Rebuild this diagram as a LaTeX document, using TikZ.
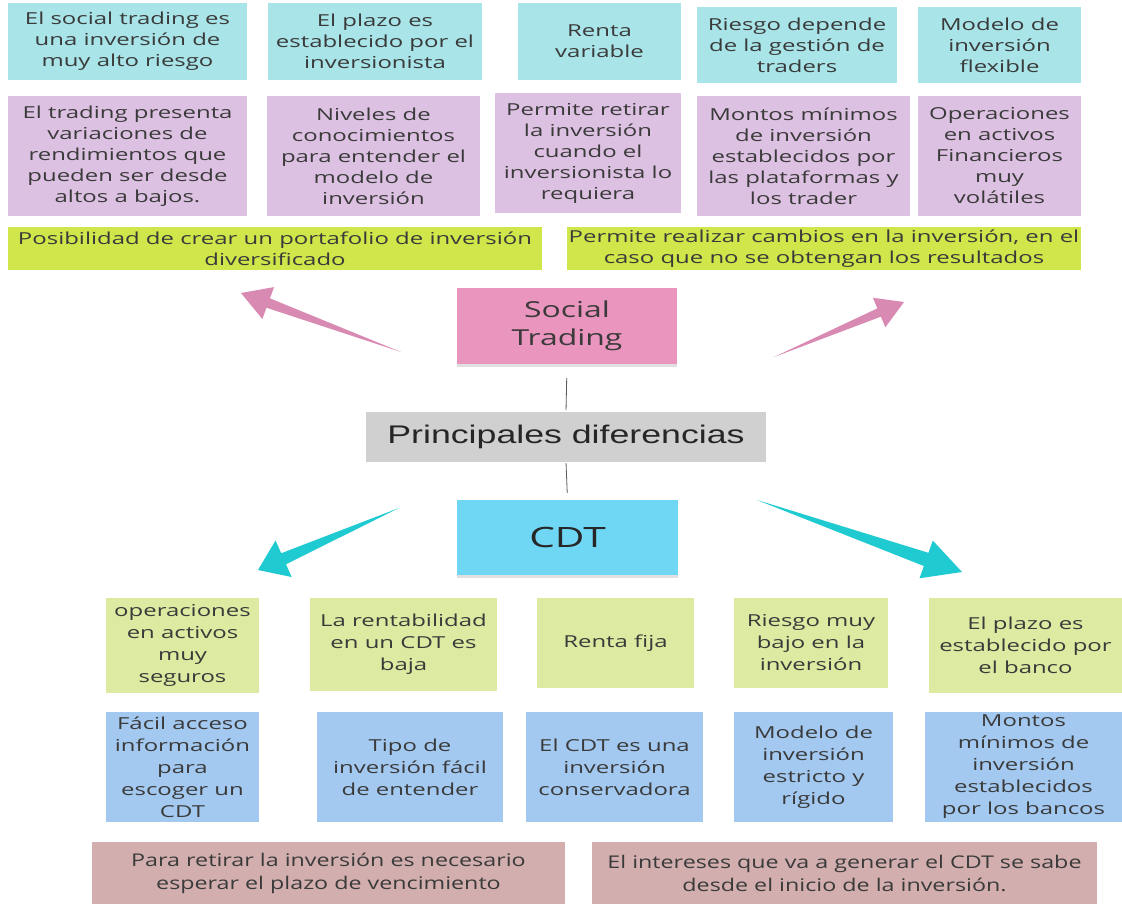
\documentclass[tikz,border=0pt]{standalone}
\usepackage{fontspec}
\setmainfont{Open Sans}[FakeStretch=1.45]
\newfontfamily\arialfont{Liberation Sans}[FakeStretch=1.4]
\newfontfamily\condfont{Open Sans}[FakeStretch=1.33]
\usetikzlibrary{calc,shadows}

\definecolor{cianclaro}{HTML}{A8E4E8}
\definecolor{lila}{HTML}{DDC1E2}
\definecolor{limon}{HTML}{D0E64A}
\definecolor{rosa}{HTML}{E995BE}
\definecolor{gris}{HTML}{D0D0D0}
\definecolor{celeste}{HTML}{6FD6F3}
\definecolor{verdeclaro}{HTML}{DCEBA1}
\definecolor{azul}{HTML}{A3C9F1}
\definecolor{rosado}{HTML}{D2AEAE}
\definecolor{flecharosa}{HTML}{D98AB3}
\definecolor{flechacian}{HTML}{1FCAD0}
\definecolor{texto}{HTML}{3A3A3A}

% color, cola, punta, largo punta, media punta, medio cuerpo
\newcommand{\flecha}[6]{%
  \fill[#1] (#2) -- ($(#3)!#4!(#2)!#6!90:(#3)$) -- ($(#3)!#4!(#2)!#5!90:(#3)$) -- (#3)
    -- ($(#3)!#4!(#2)!#5!-90:(#3)$) -- ($(#3)!#4!(#2)!#6!-90:(#3)$) -- cycle;}

\begin{document}
\begin{tikzpicture}[x=1pt,y=-1pt,
  nota/.style={rectangle, align=center, inner sep=0pt, text=texto,
    font=\fontsize{16.5}{21}\selectfont},
  notab/.style={nota, font=\fontsize{16.5}{22}\selectfont},
  caja/.style 2 args={minimum width=#1pt, minimum height=#2pt},
  sombra/.style={drop shadow={shadow xshift=0pt, shadow yshift=-3pt, opacity=.12, fill=black}},
  conector/.style={draw=black!65, line width=.8pt}]
  \fill[white] (0,0) rectangle (1122,905);
  \useasboundingbox (0,0) rectangle (1122,905);

  % Social Trading
  \node[nota, fill=cianclaro, caja={239}{77}] (c1) at (127.5,41.5) {El social trading es\\una inversión de\\muy alto riesgo};
  \node[nota, fill=cianclaro, caja={214}{77}] (c2) at (375,41.5) {El plazo es\\establecido por el\\inversionista};
  \node[nota, fill=cianclaro, caja={163}{77}] (c3) at (599.5,41.5) {Renta\\variable};
  \node[nota, fill=cianclaro, caja={200}{76}] (c4) at (797,45) {Riesgo depende\\de la gestión de\\traders};
  \node[nota, fill=cianclaro, caja={163}{76}] (c5) at (999.5,45) {Modelo de\\inversión\\flexible};

  \node[nota, fill=lila, caja={239}{120}] (p1) at (127.5,156) {El trading presenta\\variaciones de\\rendimientos que\\pueden ser desde\\altos a bajos.};
  \node[nota, fill=lila, caja={213}{120}] (p2) at (373.5,156) {Niveles de\\conocimientos\\para entender el\\modelo de\\inversión};
  \node[nota, fill=lila, caja={186}{120}] (p3) at (588,153) {Permite retirar\\la inversión\\cuando el\\inversionista lo\\requiera};
  \node[nota, fill=lila, caja={213}{120}] (p4) at (803.5,156) {Montos mínimos\\de inversión\\establecidos por\\las plataformas y\\los trader};
  \node[nota, fill=lila, caja={163}{120}] (p5) at (999.5,156) {Operaciones\\en activos\\Financieros\\muy\\volátiles};

  \node[nota, fill=limon, caja={534}{43}] (g1) at (275,248.5) {Posibilidad de crear un portafolio de inversión\\diversificado};
  \node[nota, fill=limon, caja={514}{43}] (g2) at (824,248.5) {Permite realizar cambios en la inversión, en el\\caso que no se obtengan los resultados};

  % centro
  \node[nota, fill=rosa, sombra, caja={220}{76}, font=\fontsize{22}{28}\selectfont] (st) at (567,326) {Social\\Trading};
  \node[nota, fill=gris, caja={400}{50}, font=\arialfont\fontsize{25.5}{30}\selectfont, text=black!85] (pd) at (566,437) {Principales diferencias};
  \node[nota, fill=celeste, sombra, caja={221}{75}, font=\fontsize{28}{30}\selectfont, text=black!85] (cdt) at (567.5,537.5) {CDT};
  \draw[conector, shorten <=14pt, shorten >=2pt] (st.south) -- (pd.north);
  \draw[conector, shorten <=1pt, shorten >=7pt] (pd.south) -- (cdt.north);

  \coordinate (colaA) at (401,352); \coordinate (puntaA) at (241,293);
  \coordinate (colaB) at (774,357); \coordinate (puntaB) at (904,302);
  \coordinate (colaC) at (399,508); \coordinate (puntaC) at (258,570);
  \coordinate (colaD) at (757,500); \coordinate (puntaD) at (962,572);
  \flecha{flecharosa}{colaA}{puntaA}{29pt}{17pt}{5pt}
  \flecha{flecharosa}{colaB}{puntaB}{27pt}{16pt}{4.5pt}
  \flecha{flechacian}{colaC}{puntaC}{28pt}{20pt}{6pt}
  \flecha{flechacian}{colaD}{puntaD}{38pt}{20pt}{7pt}

  % CDT
  \node[notab, fill=verdeclaro, caja={153}{95}] (b1) at (182.5,645.5) {operaciones\\en activos\\muy\\seguros};
  \node[notab, fill=verdeclaro, caja={187}{93}] (b2) at (403.5,644.5) {La rentabilidad\\en un CDT es\\baja};
  \node[notab, fill=verdeclaro, caja={157}{90}] (b3) at (615.5,643) {Renta fija};
  \node[notab, fill=verdeclaro, caja={154}{90}] (b4) at (811,643) {Riesgo muy\\bajo en la\\inversión};
  \node[notab, fill=verdeclaro, caja={193}{95}] (b5) at (1025.5,645.5) {El plazo es\\establecido por\\el banco};

  \node[notab, fill=azul, caja={153}{110}] (u1) at (182.5,767) {Fácil acceso\\información\\para\\escoger un\\CDT};
  \node[notab, fill=azul, caja={186}{110}] (u2) at (410,767) {Tipo de\\inversión fácil\\de entender};
  \node[notab, fill=azul, caja={177}{110}] (u3) at (614.5,767) {El CDT es una\\inversión\\conservadora};
  \node[notab, fill=azul, caja={159}{110}] (u4) at (813.5,767) {Modelo de\\inversión\\estricto y\\rígido};
  \node[notab, fill=azul, caja={197}{110}] (u5) at (1023.5,767) {Montos\\mínimos de\\inversión\\establecidos\\por los bancos};

  \node[nota, fill=rosado, caja={473}{62}, font=\condfont\fontsize{17.5}{23}\selectfont] (r1) at (328.5,873) {Para retirar la inversión es necesario\\esperar el plazo de vencimiento};
  \node[nota, fill=rosado, caja={505}{62}, font=\condfont\fontsize{17.5}{23}\selectfont] (r2) at (844.5,873) {El intereses que va a generar el CDT se sabe\\desde el inicio de la inversión.};
\end{tikzpicture}
\end{document}
